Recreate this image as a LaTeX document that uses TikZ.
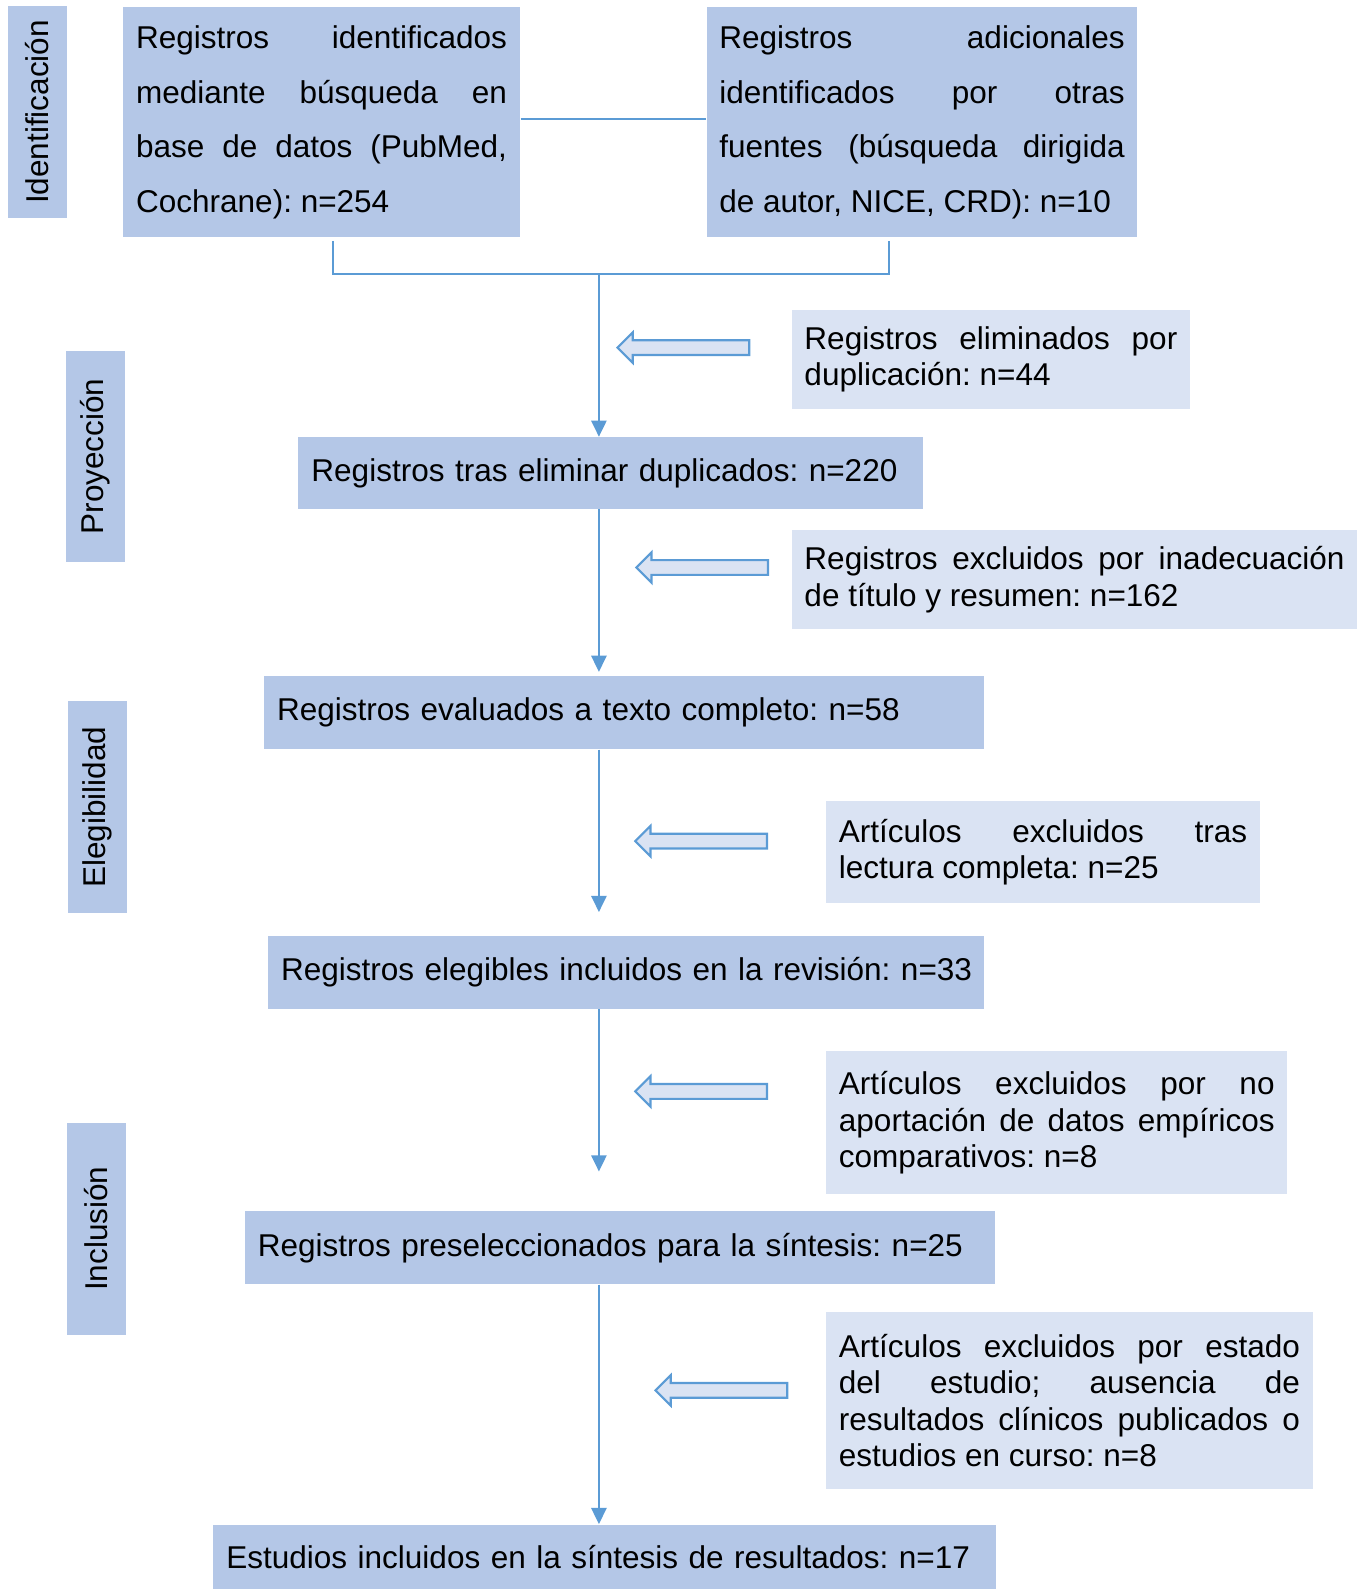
\documentclass[tikz,border=0pt]{standalone}
\usepackage{fontspec}
\setmainfont{Liberation Sans}
\usepackage{xcolor}
\usetikzlibrary{calc,positioning,shapes.arrows,arrows.meta}
\frenchspacing
\definecolor{boxblue}{HTML}{B4C7E7}
\definecolor{sideblue}{HTML}{DAE3F3}
\definecolor{lineblue}{HTML}{5B9BD5}
\tikzset{
  phase/.style={fill=boxblue, rotate=90, minimum width=4.18cm, minimum height=1.16cm, inner sep=0pt, font=\fontsize{17.7}{21}\selectfont},
  bigbox/.style={fill=boxblue, anchor=north west, inner sep=0pt, inner xsep=0.26cm, minimum height=4.54cm, align=justify, font=\fontsize{17.7}{30.7}\selectfont},
  mainbox/.style={fill=boxblue, anchor=north west, inner sep=0pt, inner xsep=0.26cm, minimum height=1.44cm, align=left, font=\fontsize{17.7}{21}\selectfont},
  sidebox/.style={fill=sideblue, anchor=north west, inner sep=0pt, inner xsep=0.25cm, align=justify, font=\fontsize{17.7}{20.5}\selectfont},
  hollow/.style={single arrow, shape border rotate=180, draw=lineblue, fill=sideblue, line width=1.2pt, inner sep=0.125cm, single arrow head extend=0.155cm, minimum height=2.6cm},
  conn/.style={draw=lineblue, line width=1.2pt},
  >={Triangle[length=0.32cm,width=0.3cm]}
}
\begin{document}
\begin{tikzpicture}[x=0.02cm, y=-0.02cm]
\useasboundingbox (0,0) rectangle (1346,1568);

\node[phase] at (37,110.5) (ident) {Identificación};
\node[phase] at (94,450.5) (proy) {Proyección};
\node[phase] at (96,796.5) (eleg) {Elegibilidad};
\node[phase] at (95,1212.5) (incl) {Inclusión};

\node[bigbox, text width=7.32cm] at (121,7) (bd) {Registros identificados\linebreak mediante búsqueda en\linebreak base de datos (PubMed,\linebreak Cochrane): n=254};
\node[bigbox, text width=8.0cm, inner xsep=0.25cm] at (697,7) (otras) {Registros adicionales\linebreak identificados por otras\linebreak fuentes (búsqueda dirigida\linebreak de autor, NICE, CRD): n=10};

\node[mainbox, text width=11.82cm, minimum height=1.42cm] at (294,431) (tras) {Registros tras eliminar duplicados: n=220};
\node[mainbox, text width=13.7cm] at (260,667) (texto) {Registros evaluados a texto completo: n=58};
\node[mainbox, text width=13.62cm] at (264,923) (elegibles) {\mbox{Registros elegibles incluidos en la revisión: n=33}};
\node[mainbox, text width=14.3cm] at (241,1195) (presel) {Registros preseleccionados para la síntesis: n=25};
\node[mainbox, text width=14.94cm, minimum height=1.28cm] at (210,1504) (final) {Estudios incluidos en la síntesis de resultados: n=17};

\node[sidebox, text width=7.36cm, minimum height=1.94cm] at (781,306) (dup) {Registros eliminados por\linebreak duplicación: n=44};
\node[sidebox, text width=10.66cm, minimum height=1.94cm] at (781,523) (inad) {Registros excluidos por inadecuación\linebreak de título y resumen: n=162};
\node[sidebox, text width=8.06cm, minimum height=2.02cm] at (815,790) (lect) {Artículos excluidos tras\linebreak lectura completa: n=25};
\node[sidebox, text width=8.6cm, minimum height=2.82cm] at (815,1037) (empir) {Artículos excluidos por no\linebreak aportación de datos empíricos\linebreak comparativos: n=8};
\node[sidebox, text width=9.1cm, minimum height=3.5cm] at (815,1294) (estado) {Artículos excluidos por estado\linebreak del estudio; ausencia de\linebreak resultados clínicos publicados o\linebreak estudios en curso: n=8};

\node[hollow] at (678,343) (adup) {};
\node[hollow] at (696.5,560) (ainad) {};
\node[hollow] at (695.5,830) (alect) {};
\node[hollow] at (695.5,1077) (aempir) {};
\node[hollow] at (715.5,1372) (aestado) {};

\draw[conn] ([yshift=0.07cm]bd.east) -- ([yshift=0.07cm]otras.west);
\coordinate (join) at (591,270);
\draw[conn] ([xshift=0.22cm,yshift=-0.06cm]bd.south) |- (join) -| ([xshift=-0.65cm,yshift=-0.06cm]otras.south);
\draw[conn, ->] (join) -- (join |- tras.north);
\draw[conn, ->, shorten >=0.08cm] (join |- tras.south) -- (join |- texto.north);
\draw[conn, ->, shorten >=0.46cm] (join |- texto.south) -- (join |- elegibles.north);
\draw[conn, ->, shorten >=0.78cm] (join |- elegibles.south) -- (join |- presel.north);
\draw[conn, ->] (join |- presel.south) -- (join |- final.north);
\end{tikzpicture}
\end{document}
